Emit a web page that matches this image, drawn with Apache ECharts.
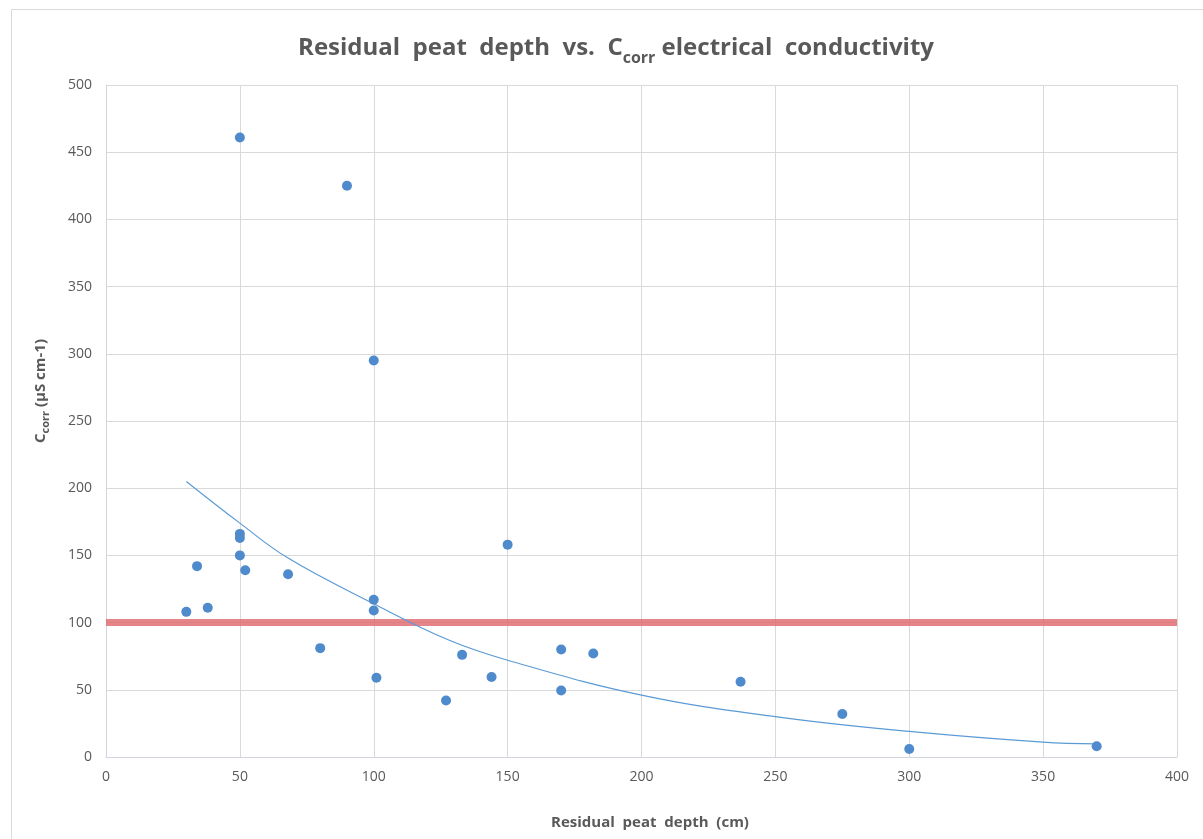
<!DOCTYPE html>
<html>
<head>
<meta charset="utf-8">
<script src="https://cdn.jsdelivr.net/npm/echarts@6/dist/echarts.min.js"></script>
<style>
html,body{margin:0;padding:0;background:#fff;}
#main{width:1203px;height:839px;}
</style>
</head>
<body>
<div id="main"></div>
<script>
// Residual peat depth (cm)
const depth = [30, 34, 38, 50, 50, 50, 52, 68, 100, 100, 80, 101, 127, 50, 90, 100, 150, 133, 144, 170, 170, 182, 237, 275, 300, 370];
// C_corr electrical conductivity (µS cm-1)
const ccorr = [108, 142, 111, 166, 163, 150, 139, 136, 117, 109, 81, 59, 42, 461, 425, 295, 158, 76, 59.5, 80, 49.5, 77, 56, 32, 6, 8];
// exponential trendline
const trendX = [30, 50, 68, 100, 128, 150, 200, 250, 300, 350, 370];
const trendY = [205, 174, 148, 114, 87, 72, 46, 30, 19, 11, 9.7];
// threshold line
const thresholdX = [0, 400];
const thresholdY = [100, 100];
const xTicks = [0, 50, 100, 150, 200, 250, 300, 350, 400];
const yTicks = [0, 50, 100, 150, 200, 250, 300, 350, 400, 450, 500];

const FONT = '"Liberation Sans Narrow", "Open Sans", sans-serif';
const GREY = '#595959';

const chart = echarts.init(document.getElementById('main'), null, {renderer: 'canvas'});
chart.setOption({
  animation: false,
  backgroundColor: '#fff',
  graphic: [{
    type: 'rect', left: 9, top: 7, shape: {width: 1300, height: 1000},
    style: {fill: 'none', stroke: '#d9d9d9', lineWidth: 1}, silent: true, z: -10
  }],
  title: {
    text: '{t|Residual  peat  depth  vs.  C}{s|corr}{t| electrical  conductivity}',
    left: 611, top: 25, textAlign: 'center',
    textStyle: {
      rich: {
        t: {fontFamily: FONT, fontSize: 24, fontWeight: 'bold', color: GREY, lineHeight: 30, verticalAlign: 'bottom'},
        s: {fontFamily: FONT, fontSize: 16, fontWeight: 'bold', color: GREY, lineHeight: 30, verticalAlign: 'bottom', padding: [0, 0, -6, 0]}
      }
    }
  },
  grid: {left: 106, right: 26, top: 85, bottom: 82, containLabel: false},
  xAxis: {
    type: 'value', min: xTicks[0], max: xTicks[xTicks.length - 1], interval: 50,
    name: 'Residual  peat  depth  (cm)', nameLocation: 'middle', nameGap: 58,
    nameTextStyle: {fontFamily: FONT, fontSize: 15, fontWeight: 'bold', color: GREY, padding: [0, 0, 0, 17]},
    axisLine: {show: true, lineStyle: {color: '#d0d5de', width: 1}},
    axisTick: {show: false},
    axisLabel: {fontFamily: FONT, fontSize: 14, color: GREY, margin: 13},
    splitLine: {show: true, lineStyle: {color: '#d9d9d9', width: 1}}
  },
  yAxis: {
    type: 'value', min: yTicks[0], max: yTicks[yTicks.length - 1], interval: 50,
    name: '{b|C}{s|corr}{b| (µS cm-1)}', nameLocation: 'middle', nameGap: 58, nameRotate: 90,
    nameTextStyle: {
      padding: [0, 0, 0, 60],
      rich: {
        b: {fontFamily: FONT, fontSize: 15, fontWeight: 'bold', color: GREY, lineHeight: 20, verticalAlign: 'bottom'},
        s: {fontFamily: FONT, fontSize: 11, fontWeight: 'bold', color: GREY, lineHeight: 20, verticalAlign: 'bottom', padding: [0, 0, -3, 0]}
      }
    },
    axisLine: {show: true, lineStyle: {color: '#d0d5de', width: 1}},
    axisTick: {show: false},
    axisLabel: {fontFamily: FONT, fontSize: 14, color: GREY, margin: 14},
    splitLine: {show: true, lineStyle: {color: '#d9d9d9', width: 1}}
  },
  series: [
    {
      type: 'line', data: thresholdX.map((x, i) => [x, thresholdY[i]]),
      symbol: 'none', lineStyle: {color: '#e0666b', width: 7, opacity: 0.8}, z: 2, silent: true
    },
    {
      type: 'line', data: trendX.map((x, i) => [x, trendY[i]]), smooth: 0.4,
      symbol: 'none', lineStyle: {color: '#5b9bd5', width: 1.2}, z: 3, silent: true
    },
    {
      type: 'scatter', data: depth.map((x, i) => [x, ccorr[i]]),
      symbol: 'circle', symbolSize: 10, itemStyle: {color: '#4f8bcc', opacity: 1}, z: 4
    }
  ]
});
</script>
</body>
</html>
